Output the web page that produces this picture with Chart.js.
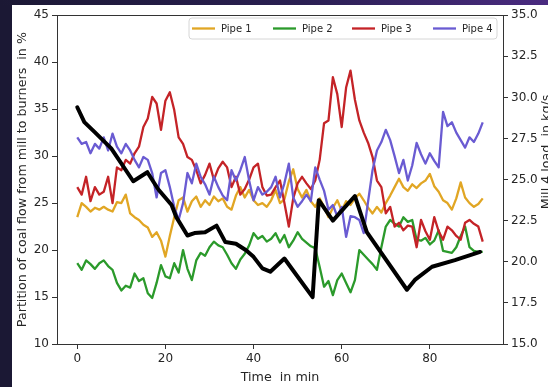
<!DOCTYPE html>
<html>
<head>
<meta charset="utf-8">
<script src="https://cdn.jsdelivr.net/npm/chart.js@4.4.0/dist/chart.umd.min.js"></script>
<style>
  html, body { margin: 0; padding: 0; width: 548px; height: 387px; overflow: hidden; background: #1b1834; }
  #band { position: absolute; left: 0; top: 0; width: 548px; height: 5px;
          background: linear-gradient(90deg, #1b1834 0%, #2a1f52 55%, #4a2b80 100%); }
  #panel { position: absolute; left: 12px; top: 5px; width: 536px; height: 382px; background: #ffffff; }
  canvas { display: block; }
</style>
</head>
<body>
<div id="band"></div>
<div id="panel"><canvas id="chart" width="536" height="382"></canvas></div>
<script>
// Sample times in minutes (one sample per minute)
const minutes = Array.from({ length: 93 }, (_, i) => i);

// Share of the mill's coal flow going to each burner pipe, in %
const pipe1 = [23.5, 25.0, 24.6, 24.1, 24.5, 24.3, 24.6, 24.3, 24.1, 25.1,
               25.0, 25.9, 23.9, 23.5, 23.2, 22.7, 22.4, 21.4, 21.9, 21.0,
               19.3, 21.5, 23.5, 25.3, 25.6, 24.1, 25.2, 25.7, 24.6, 25.3,
               24.8, 25.7, 25.2, 25.5, 24.6, 24.3, 25.8, 26.7, 25.6, 26.4,
               25.3, 24.8, 25.0, 24.6, 25.3, 26.4, 25.0, 25.4, 27.3, 28.6,
               26.5, 25.6, 26.4, 25.2, 24.6, 25.5, 24.6, 23.5, 24.5, 25.3,
               24.2, 25.2, 24.8, 25.5, 26.0, 25.3, 24.5, 23.9, 24.6, 24.0,
               25.0, 25.8, 26.7, 27.6, 26.7, 26.3, 27.0, 26.6, 27.1, 27.4,
               28.1, 26.8, 26.2, 25.3, 25.0, 24.3, 25.5, 27.2, 25.6, 25.0,
               24.6, 24.9, 25.5];
const pipe2 = [18.6, 17.9, 18.9, 18.5, 18.0, 18.6, 18.9, 18.3, 17.9, 16.5,
               15.7, 16.2, 16.0, 17.5, 16.7, 17.0, 15.4, 14.9, 16.5, 18.4,
               17.2, 17.0, 18.6, 17.6, 20.0, 18.0, 16.8, 18.9, 19.7, 19.4,
               20.3, 20.9, 20.5, 20.3, 19.5, 18.6, 18.0, 19.0, 19.6, 20.5,
               21.8, 21.2, 21.5, 20.9, 21.2, 21.8, 20.8, 21.6, 20.3, 21.0,
               21.9, 21.2, 20.8, 20.4, 20.2, 18.2, 16.1, 16.7, 15.2, 16.8,
               17.5, 16.5, 15.5, 16.8, 20.0, 19.5, 19.0, 18.5, 17.9, 20.3,
               22.5, 23.2, 22.8, 22.5, 23.5, 23.0, 23.2, 21.1, 21.0, 21.3,
               20.6, 21.0, 22.1, 19.9, 19.8, 19.7, 20.3, 21.5, 22.5, 20.3,
               19.9, 19.8, 19.8];
const pipe3 = [26.7, 25.9, 27.8, 25.2, 26.7, 25.9, 26.2, 27.8, 25.0, 28.8,
               28.5, 29.6, 29.2, 30.3, 31.0, 33.1, 34.0, 36.3, 35.6, 32.8,
               35.9, 36.8, 34.9, 32.0, 31.3, 29.9, 29.6, 28.5, 27.1, 28.0,
               29.2, 27.5, 28.7, 29.4, 28.8, 26.7, 27.8, 25.9, 26.5, 27.5,
               28.8, 29.2, 26.7, 25.8, 25.9, 26.7, 27.4, 25.0, 22.5, 25.5,
               27.1, 27.8, 27.1, 26.5, 27.4, 29.6, 33.5, 33.8, 38.4, 36.6,
               33.1, 37.3, 39.1, 36.0, 33.8, 32.5, 31.4, 29.9, 27.4, 26.7,
               23.9, 24.6, 22.5, 22.9, 22.1, 22.6, 22.5, 20.3, 23.2, 22.0,
               21.1, 23.5, 22.0, 21.1, 22.5, 22.1, 21.5, 21.1, 22.9, 23.2,
               22.8, 22.5, 20.9];
const pipe4 = [32.0, 31.3, 31.5, 30.3, 31.3, 30.8, 32.0, 30.6, 32.4, 31.0,
               30.3, 31.3, 30.6, 29.6, 28.8, 29.9, 29.6, 28.2, 25.6, 28.2,
               28.5, 26.7, 24.6, 23.2, 25.0, 28.2, 27.1, 29.2, 27.8, 27.0,
               25.9, 27.8, 26.7, 25.8, 25.3, 28.5, 27.4, 28.5, 29.9, 27.4,
               25.3, 26.7, 25.9, 26.2, 26.7, 27.8, 25.6, 27.1, 29.2, 25.6,
               24.6, 25.2, 25.9, 25.2, 28.8, 27.5, 26.3, 24.3, 24.8, 23.6,
               24.6, 21.4, 23.6, 23.5, 23.2, 21.8, 25.2, 28.5, 30.6, 31.5,
               32.8, 31.7, 30.0, 28.2, 29.6, 27.4, 29.0, 31.4, 30.2, 29.2,
               30.3, 29.5, 28.8, 34.7, 33.2, 33.6, 32.5, 31.7, 30.9, 32.0,
               31.5, 32.4, 33.6];

// Mill 4 load in kg/s
const loadTimes  = [0, 1.6, 3.9, 7.7, 12.7, 15.9, 18.4, 21.4, 22.5, 25, 26.6, 29,
                    31.6, 33.6, 36, 38.3, 40, 42, 43.8, 47, 48.9, 53.4, 54.8, 58,
                    63, 65.7, 74.8, 76.6, 80.5, 85.7, 91.4];
const loadValues = [29.4, 28.5, 27.9, 26.9, 24.9, 25.45, 24.4, 23.45, 22.7, 21.6, 21.75, 21.8,
                    22.2, 21.2, 21.1, 20.7, 20.3, 19.6, 19.4, 20.2, 19.5, 17.85, 23.75, 22.5,
                    24.0, 21.8, 18.3, 18.9, 19.7, 20.1, 20.6];

const seriesNames = ['Pipe 1', 'Pipe 2', 'Pipe 3', 'Pipe 4'];
const seriesColors = ['#e1a624', '#2b9a2b', '#c42327', '#6a5bd2'];

const timeTicks = [0, 20, 40, 60, 80];
const shareTicks = [10, 15, 20, 25, 30, 35, 40, 45];
const loadTicks = [15.0, 17.5, 20.0, 22.5, 25.0, 27.5, 30.0, 32.5, 35.0];

const FONT = 'DejaVu Sans';

const pipeSets = [pipe1, pipe2, pipe3, pipe4].map((vals, k) => ({
  label: seriesNames[k],
  data: vals.map((v, i) => ({ x: minutes[i], y: v })),
  borderColor: seriesColors[k],
  borderWidth: 2.3,
  pointRadius: 0,
  tension: 0,
  borderJoinStyle: 'round',
  yAxisID: 'y',
  order: 4 - k
}));

const loadSet = {
  label: 'Mill 4 load',
  data: loadTimes.map((t, i) => ({ x: t, y: loadValues[i] })),
  borderColor: '#000000',
  borderWidth: 4,
  pointRadius: 0,
  tension: 0,
  borderJoinStyle: 'round',
  borderCapStyle: 'round',
  yAxisID: 'y1',
  order: 0
};

// Axes frame, in-plot legend and the right-hand axis caption
const decorations = {
  id: 'decorations',
  afterDatasetsDraw(chart) {
    const { ctx, chartArea: a } = chart;
    ctx.save();
    ctx.strokeStyle = '#333333';
    ctx.lineWidth = 1;
    ctx.strokeRect(Math.round(a.left) + 0.5, Math.round(a.top) + 0.5,
                   Math.round(a.right - a.left), Math.round(a.bottom - a.top));

    // legend box
    const bx = 177, by = 13, bw = 308, bh = 21, r = 3;
    ctx.beginPath();
    ctx.moveTo(bx + r, by);
    ctx.arcTo(bx + bw, by, bx + bw, by + bh, r);
    ctx.arcTo(bx + bw, by + bh, bx, by + bh, r);
    ctx.arcTo(bx, by + bh, bx, by, r);
    ctx.arcTo(bx, by, bx + bw, by, r);
    ctx.closePath();
    ctx.fillStyle = 'rgba(255,255,255,0.85)';
    ctx.fill();
    ctx.strokeStyle = '#d6d6d6';
    ctx.stroke();

    const itemX = [180, 261, 340, 421];
    const cy = by + bh / 2;
    ctx.font = '10px "' + FONT + '"';
    ctx.textBaseline = 'middle';
    ctx.textAlign = 'left';
    seriesNames.forEach((name, k) => {
      ctx.strokeStyle = seriesColors[k];
      ctx.lineWidth = 2.3;
      ctx.beginPath();
      ctx.moveTo(itemX[k], cy);
      ctx.lineTo(itemX[k] + 23, cy);
      ctx.stroke();
      ctx.fillStyle = '#262626';
      ctx.fillText(name, itemX[k] + 29, cy + 0.5);
    });

    // right axis caption
    ctx.translate(534.5, 147);
    ctx.rotate(-Math.PI / 2);
    ctx.font = '12.7px "' + FONT + '"';
    ctx.textAlign = 'center';
    ctx.fillStyle = '#262626';
    ctx.fillText('Mill 4 load  in kg/s', 0, 0);
    ctx.restore();
  }
};

const tickGrid = { display: true, drawOnChartArea: false, drawTicks: true, tickLength: 5, color: '#333333' };

new Chart(document.getElementById('chart'), {
  type: 'line',
  data: { datasets: [...pipeSets, loadSet] },
  options: {
    responsive: false,
    animation: false,
    events: [],
    layout: { padding: { top: 10, left: 0, right: 0, bottom: 0 } },
    plugins: { legend: { display: false }, tooltip: { enabled: false } },
    scales: {
      x: {
        type: 'linear',
        min: -4.6, max: 96.6,
        afterBuildTicks: s => { s.ticks = timeTicks.map(v => ({ value: v })); },
        afterFit: s => { s.height = 43; },
        grid: tickGrid,
        border: { display: false },
        ticks: { color: '#262626', font: { family: FONT, size: 12 }, padding: 3, maxRotation: 0 },
        title: { display: true, text: 'Time  in min', color: '#262626',
                 font: { family: FONT, size: 12.7 }, padding: { top: 0, bottom: 2 } }
      },
      y: {
        type: 'linear', position: 'left',
        min: 10, max: 45,
        afterBuildTicks: s => { s.ticks = shareTicks.map(v => ({ value: v })); },
        afterFit: s => { s.width = 45; },
        grid: tickGrid,
        border: { display: false },
        ticks: { color: '#262626', font: { family: FONT, size: 12 }, padding: 3 },
        title: { display: true, text: 'Partition of coal flow from mill to burners  in %', color: '#262626',
                 font: { family: FONT, size: 12.7 }, padding: { top: 3, bottom: 0 } }
      },
      y1: {
        type: 'linear', position: 'right',
        min: 15, max: 35,
        afterBuildTicks: s => { s.ticks = loadTicks.map(v => ({ value: v })); },
        afterFit: s => { s.width = 45; },
        grid: tickGrid,
        border: { display: false },
        ticks: { color: '#262626', font: { family: FONT, size: 12 }, padding: 3,
                 callback: v => Number(v).toFixed(1) }
      }
    }
  },
  plugins: [decorations]
});
</script>
</body>
</html>
